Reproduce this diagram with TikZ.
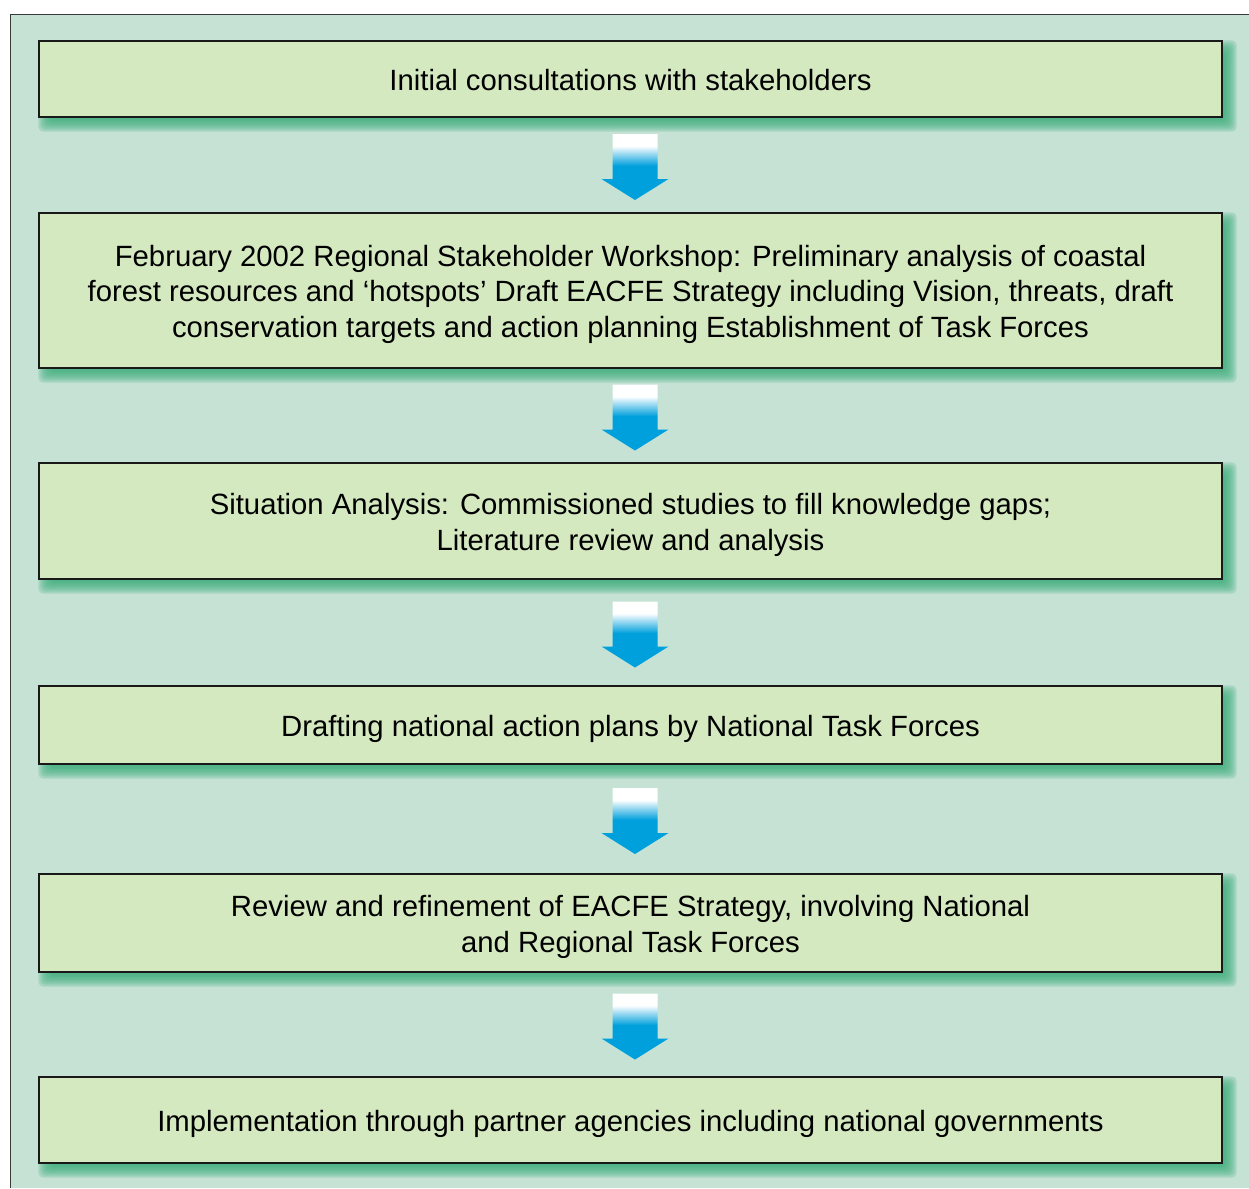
\documentclass[tikz,border=0pt]{standalone}
\usepackage{fontspec}
\setmainfont{Liberation Sans}
\usetikzlibrary{calc}

\definecolor{panelteal}{HTML}{C5E2D5}
\definecolor{boxgreen}{HTML}{D4E9C0}
\definecolor{shadowgreen}{HTML}{3DAE7C}
\definecolor{arrowblue}{HTML}{00A0DC}
\definecolor{framegray}{HTML}{3A3A3A}

% invisible strut giving every line the same height and depth, so that
% the capitals of each stage sit on the middle of its box
\newcommand\lnstrut{\rule[-0.206em]{0pt}{1.196em}}

% white at the top of the shaft, fading into solid blue towards the head
\pgfdeclareverticalshading{arrowshade}{100bp}{%
  color(0bp)=(arrowblue); color(51bp)=(arrowblue);
  color(66bp)=(white); color(100bp)=(white)}

\pgfdeclarelayer{framelayer}
\pgfdeclarelayer{shadowlayer}
\pgfsetlayers{framelayer,shadowlayer,main}

\tikzset{
  stagebox/.style={draw=black!90, line width=1.3pt, fill=boxgreen,
    minimum width=1183pt, align=center, inner sep=0pt,
    font=\fontsize{29.3}{35.5}\selectfont},
  blockarrow/.pic={
    \shade[shading=arrowshade]
      (-22.5,-33) -- (22.5,-33) -- (22.5,12) -- (33.5,12) -- (0,33)
      -- (-33.5,12) -- (-22.5,12) -- cycle;
  }
}

\begin{document}
\begin{tikzpicture}[x=1pt, y=-1pt]
\useasboundingbox (0,0) rectangle (1249,1188);

\begin{pgfonlayer}{framelayer}
  \fill[panelteal] (10,15) rectangle (1249,1188);
  \draw[framegray, line width=1pt] (1249,15) -- (10,15) -- (10,1188);
\end{pgfonlayer}

\node[stagebox, minimum height=76pt] (s1) at (630.5,79)
  {\lnstrut Initial consultations with stakeholders};
\node[stagebox, minimum height=155pt] (s2) at (630.5,290.5)
  {\lnstrut February 2002 Regional Stakeholder Workshop: Preliminary analysis of coastal\\
   \lnstrut forest resources and ‘hotspots’ Draft EACFE Strategy including Vision, threats, draft\\
   \lnstrut conservation targets and action planning Establishment of Task Forces};
\node[stagebox, minimum height=116pt] (s3) at (630.5,521)
  {\lnstrut Situation Analysis: Commissioned studies to fill knowledge gaps;\\
   \lnstrut Literature review and analysis};
\node[stagebox, minimum height=78pt] (s4) at (630.5,725)
  {\lnstrut Drafting national action plans by National Task Forces};
\node[stagebox, minimum height=98pt] (s5) at (630.5,923)
  {\lnstrut Review and refinement of EACFE Strategy, involving National\\
   \lnstrut and Regional Task Forces};
\node[stagebox, minimum height=86pt] (s6) at (630.5,1120)
  {\lnstrut Implementation through partner agencies including national governments};

% soft green drop shadows below and to the right of each stage
\begin{pgfonlayer}{shadowlayer}
  \foreach \n in {s1,s2,s3,s4,s5,s6}{
    \foreach \k in {0,...,7}{
      \pgfmathsetmacro\e{7-2*\k}
      \fill[shadowgreen, opacity=0.23, rounded corners=5pt]
        ($(\n.north west)+(7-\e,7-\e)$) rectangle ($(\n.south east)+(7+\e,7+\e)$);
    }
  }
\end{pgfonlayer}

% block arrows between consecutive stages
\foreach \a/\b in {s1/s2,s2/s3,s3/s4,s4/s5,s5/s6}{
  \pic at ($(\a.south)!0.5!(\b.north)+(4.5,2)$) {blockarrow};
}
\end{tikzpicture}
\end{document}
